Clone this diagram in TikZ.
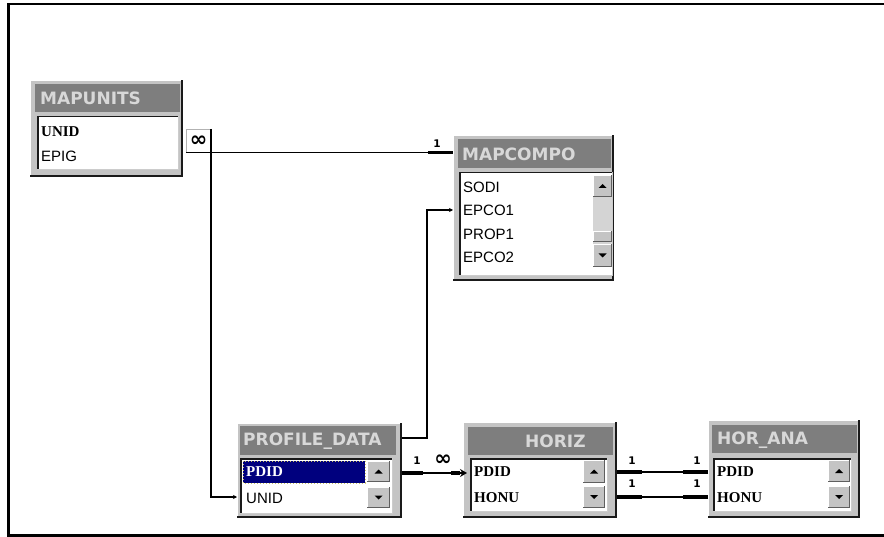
\documentclass[tikz,border=0pt]{standalone}
\usepackage{fontspec}
\setmainfont{Liberation Sans}
\newfontfamily\tfont{DejaVu Sans}
\newfontfamily\kfont{Liberation Serif}
\usetikzlibrary{arrows.meta,calc}
\definecolor{wface}{HTML}{C4C4C4}
\definecolor{tbar}{HTML}{7E7E7E}
\definecolor{ttxt}{HTML}{D8D8D8}
\definecolor{dshadow}{HTML}{1A1A1A}
\definecolor{hl}{HTML}{00007E}
\definecolor{hlb}{HTML}{C8C060}
\definecolor{track}{HTML}{D4D4D4}
\tikzset{
 titletext/.style={anchor=west, text=ttxt, font=\tfont\bfseries\fontsize{17}{17}\selectfont, inner sep=0pt},
 fieldtext/.style={anchor=west, text=black, font=\fontsize{15}{15}\selectfont, inner sep=0pt},
 keytext/.style={anchor=west, text=black, font=\kfont\bfseries\fontsize{15}{15}\selectfont, inner sep=0pt},
 cardtext/.style={font=\tfont\bfseries\fontsize{10.5}{10.5}\selectfont, inner sep=0pt},
 inftext/.style={font=\tfont\bfseries\fontsize{21}{21}\selectfont, inner sep=0pt},
 rel/.style={draw=black, line width=1.2pt},
 relthick/.style={draw=black, line width=3.2pt},
 smalltip/.style={-{Stealth[length=4pt,width=4pt]}},
}
\newcommand\winframe[4]{%
 \fill[wface] (#1,#2) rectangle (#3,#4);
 \draw[white, line width=1pt] (#1+0.5,#4-1) -- (#1+0.5,#2+0.5) -- (#3-1,#2+0.5);
 \draw[dshadow, line width=2pt] (#1,#4-1) -- (#3-1,#4-1) -- (#3-1,#2);
}
\newcommand\titlebar[4]{\fill[tbar] (#1,#2) rectangle (#3,#4);}
\newcommand\listarea[4]{%
 \fill[white] (#1,#2) rectangle (#3,#4);
 \draw[dshadow, line width=1.5pt] (#1+0.75,#4) -- (#1+0.75,#2+0.75) -- (#3,#2+0.75);
 \draw[gray!40, line width=1pt] (#1,#4-0.5) -- (#3-0.5,#4-0.5) -- (#3-0.5,#2);
}
\newcommand\sbtn[5]{%
 \fill[wface] (#1,#2) rectangle (#3,#4);
 \draw[white, line width=1pt] (#1+0.5,#4) -- (#1+0.5,#2+0.5) -- (#3,#2+0.5);
 \draw[dshadow!70, line width=1.2pt] (#1,#4-0.6) -- (#3-0.6,#4-0.6) -- (#3-0.6,#2);
 \fill[black] ({(#1+#3)/2-4},{(#2+#4)/2+2*(#5)}) -- ({(#1+#3)/2+4},{(#2+#4)/2+2*(#5)}) -- ({(#1+#3)/2},{(#2+#4)/2-2*(#5)}) -- cycle;
}
\begin{document}
\begin{tikzpicture}[x=1pt,y=-1pt]
\useasboundingbox (0,0) rectangle (884,537);
\fill[white] (0,0) rectangle (884,537);
% outer frame
\draw[line width=2.5pt] (884,4) -- (8.5,4) -- (8.5,535.5) -- (884,535.5);

% ---------- MAPUNITS
\winframe{30}{80}{183}{177}
\titlebar{35}{84}{180}{112}
\node[titletext] (muT) at (40,98) {MAPUNITS};
\listarea{37}{116}{179}{170}
\node[keytext] (muUNID) at (41,132) {UNID};
\node[fieldtext] (muEPIG) at (41,156) {EPIG};

% ---------- MAPCOMPO
\winframe{453}{135}{614}{281}
\titlebar{458}{139}{611}{168}
\node[titletext] (mcT) at (462,154) {MAPCOMPO};
\listarea{459}{172}{613}{276}
\node[fieldtext] (mcSODI) at (463,187) {SODI};
\node[fieldtext] (mcEPCO1) at (463,210) {EPCO1};
\node[fieldtext] (mcPROP1) at (463,234) {PROP1};
\node[fieldtext] (mcEPCO2) at (463,257) {EPCO2};
\fill[track] (593,197) rectangle (612,244);
\sbtn{593}{175}{612}{197}{1}
\fill[wface] (593,231) rectangle (612,242);
\draw[white, line width=0.8pt] (593.4,242) -- (593.4,231.4) -- (612,231.4);
\draw[dshadow!70, line width=1pt] (593,241.5) -- (611.5,241.5) -- (611.5,231);
\sbtn{593}{244}{612}{267}{-1}

% ---------- PROFILE_DATA
\winframe{237}{423}{402}{518}
\titlebar{240}{426}{396}{455}
\node[titletext] (pdT) at (243,441) {PROFILE\_DATA};
\listarea{240}{458}{393}{514}
\draw[hlb, dotted, line width=1pt, fill=hl] (243,461) rectangle (365,483);
\node[keytext, text=white] (pdPDID) at (246,472) {PDID};
\node[fieldtext] (pdUNID) at (246,498) {UNID};
\sbtn{367}{461}{390}{482}{1}
\sbtn{367}{487}{390}{508}{-1}

% ---------- HORIZ
\winframe{463}{422}{617}{518}
\titlebar{468}{427}{613}{455}
\node[titletext] (hzT) at (525,441) {HORIZ};
\listarea{470}{458}{608}{512}
\node[keytext] (hzPDID) at (474,472) {PDID};
\node[keytext] (hzHONU) at (474,498) {HONU};
\sbtn{583}{460}{605}{483}{1}
\sbtn{583}{486}{605}{508}{-1}

% ---------- HOR_ANA
\winframe{708}{420}{860}{518}
\titlebar{712}{425}{857}{453}
\node[titletext] (haT) at (717,440) {HOR\_ANA};
\listarea{713}{458}{852}{512}
\node[keytext] (haPDID) at (717,472) {PDID};
\node[keytext] (haHONU) at (717,498) {HONU};
\sbtn{828}{460}{850}{482}{1}
\sbtn{828}{486}{850}{508}{-1}

% ---------- connection points
\coordinate (muOut) at (186,152.5);
\coordinate (muDown) at (211,152.5);
\coordinate (mcIn) at (453,152.5);
\coordinate (mcEpIn) at (453,210);
\coordinate (pdUnIn) at (237,497);
\coordinate (pdOutT) at (402,438);
\coordinate (pdOut) at (402,473);
\coordinate (hzIn) at (467,473);
\coordinate (hzOut1) at (617,472);
\coordinate (hzOut2) at (617,497);
\coordinate (haIn1) at (708,472);
\coordinate (haIn2) at (708,497);

% infinity box on MAPUNITS
\draw[gray!60, line width=0.8pt, fill=white] (186,129) rectangle (211,152.5);
\node[inftext] (muInf) at (198.5,141) {∞};

% MAPUNITS -> MAPCOMPO
\draw[rel] (muOut) -- (mcIn);
\draw[relthick] ($(mcIn)+(-25,0)$) -- (mcIn);
\node[cardtext] (c1) at (437,144) {1};

% MAPUNITS -> PROFILE_DATA.UNID
\draw[rel] (211,129) -- (muDown);
\draw[rel, smalltip] (muDown) |- (pdUnIn);

% PROFILE_DATA -> MAPCOMPO.EPCO1
\draw[rel, smalltip] (pdOutT) -- (427,438) |- (mcEpIn);

% PROFILE_DATA -> HORIZ
\draw[rel, -{Stealth[length=7pt,width=8pt]}] (pdOut) -- (hzIn);
\draw[relthick] (pdOut) -- ($(pdOut)+(21,0)$);
\draw[relthick] (451,473) -- (460,473);
\node[cardtext] (c2) at (417,461) {1};
\node[inftext] (c3) at (443,460) {∞};

% HORIZ -> HOR_ANA
\draw[rel] (hzOut1) -- (haIn1);
\draw[rel] (hzOut2) -- (haIn2);
\draw[relthick] (hzOut1) -- ($(hzOut1)+(25,0)$);
\draw[relthick] (hzOut2) -- ($(hzOut2)+(25,0)$);
\draw[relthick] (haIn1) -- ($(haIn1)+(-25,0)$);
\draw[relthick] (haIn2) -- ($(haIn2)+(-25,0)$);
\node[cardtext] (c4) at (632,461) {1};
\node[cardtext] (c5) at (697,461) {1};
\node[cardtext] (c6) at (632,484) {1};
\node[cardtext] (c7) at (697,484) {1};
\end{tikzpicture}
\end{document}
